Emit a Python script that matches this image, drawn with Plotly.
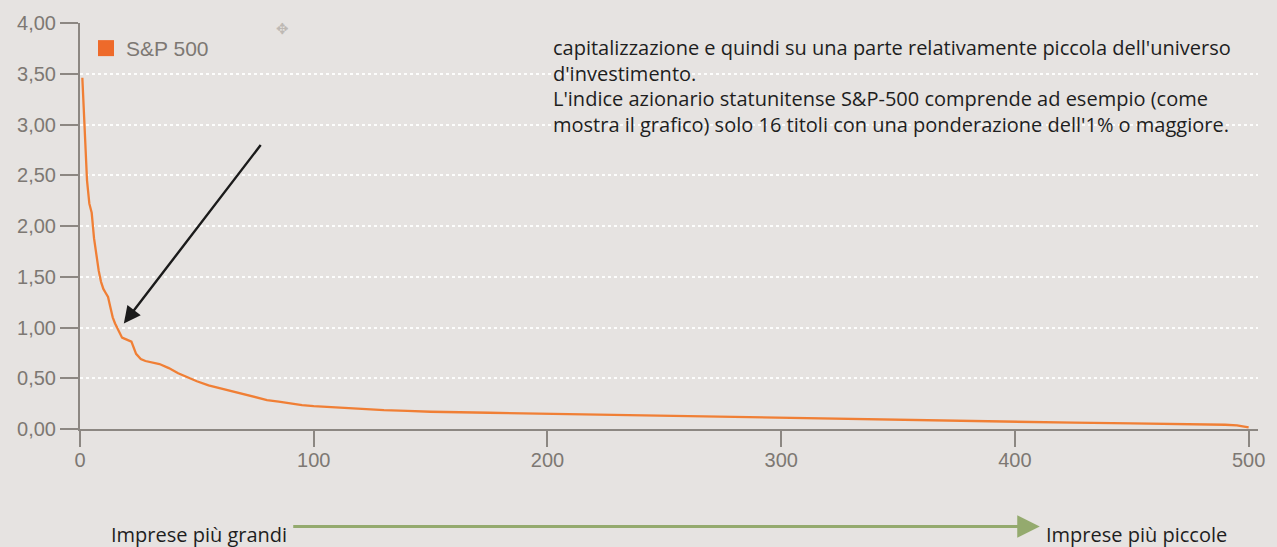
import plotly.graph_objects as go

# ---- data ----
ranks = [1, 2, 3, 4, 5, 6, 7, 8, 9, 10, 11, 12, 13, 14, 15, 16, 17, 18, 19, 20,
         22, 24, 26, 28, 30, 34, 38, 42, 46, 50, 55, 60, 65, 70, 75, 80, 85, 90,
         95, 100, 110, 120, 130, 140, 150, 175, 200, 225, 250, 275, 300, 325,
         350, 375, 400, 425, 450, 475, 490, 495, 500]
weights = [3.46, 2.98, 2.45, 2.22, 2.13, 1.88, 1.70, 1.56, 1.45, 1.38, 1.34, 1.30,
           1.20, 1.10, 1.04, 0.99, 0.94, 0.90, 0.89, 0.88, 0.86, 0.74, 0.69, 0.67,
           0.66, 0.64, 0.60, 0.55, 0.51, 0.47, 0.43, 0.40, 0.37, 0.34, 0.31, 0.285,
           0.27, 0.25, 0.235, 0.225, 0.21, 0.195, 0.185, 0.178, 0.17, 0.16, 0.15,
           0.14, 0.125, 0.115, 0.105, 0.095, 0.088, 0.08, 0.07, 0.062, 0.055,
           0.048, 0.042, 0.035, 0.015]
series_name = "S&P 500"
x_ticks = [0, 100, 200, 300, 400, 500]
y_ticks = [0.0, 0.5, 1.0, 1.5, 2.0, 2.5, 3.0, 3.5, 4.0]

note_lines = [
    "capitalizzazione e quindi su una parte relativamente piccola dell'universo",
    "d'investimento.",
    "L'indice azionario statunitense S&P-500 comprende ad esempio (come",
    "mostra il grafico) solo 16 titoli con una ponderazione dell'1% o maggiore.",
]
label_left = "Imprese più grandi"
label_right = "Imprese più piccole"

# ---- style ----
BG = "#e6e3e1"
AXIS = "#8c8782"
TICKTXT = "#7d7873"
ORANGE = "#f07f35"
LEG = "#ee6a2a"
GREEN = "#94aa6e"
TXT = "#1e1e1e"

W, H = 1277, 547
L, R, T, B = 80, 15, 21, 118
pw, ph = W - L - R, H - T - B


def px(xp):
    return (xp - L) / pw


def py(yp):
    return (H - B - yp) / ph


fig = go.Figure()
fig.add_trace(go.Scatter(
    x=ranks, y=weights, mode="lines",
    line=dict(color=ORANGE, width=2.3),
    showlegend=False, hoverinfo="skip",
))
fig.add_trace(go.Scatter(
    x=[None], y=[None], mode="markers", name=series_name,
    marker=dict(symbol="square", size=17, color=LEG),
    showlegend=True,
))

annotations = []
# note text block (top right)
line_y = [46, 72, 97, 123]
for txt, yy in zip(note_lines, line_y):
    annotations.append(dict(
        xref="paper", yref="paper", x=px(553), y=py(yy),
        xanchor="left", yanchor="middle", text=txt, showarrow=False,
        font=dict(family="Open Sans", size=20, color=TXT),
    ))

# black arrow pointing to the 1% crossing
annotations.append(dict(
    xref="paper", yref="paper", x=px(124), y=py(323),
    ax=262 - 124, ay=143 - 323, axref="pixel", ayref="pixel",
    text="", showarrow=True, arrowhead=2, arrowsize=1.4,
    arrowwidth=2.4, arrowcolor="#1b1b1b",
))

# green arrow along the bottom
annotations.append(dict(
    xref="paper", yref="paper", x=px(1043), y=py(527),
    ax=295 - 1043, ay=0, axref="pixel", ayref="pixel",
    text="", showarrow=True, arrowhead=2, arrowsize=1.5,
    arrowwidth=3, arrowcolor=GREEN,
))
annotations.append(dict(
    xref="paper", yref="paper", x=px(109), y=py(535),
    xanchor="left", yanchor="middle", text=label_left, showarrow=False,
    font=dict(family="Open Sans", size=20, color=TXT),
))
annotations.append(dict(
    xref="paper", yref="paper", x=px(1047), y=py(535),
    xanchor="left", yanchor="middle", text=label_right, showarrow=False,
    font=dict(family="Open Sans", size=20, color=TXT),
))
# small move cursor glyph
annotations.append(dict(
    xref="paper", yref="paper", x=px(283), y=py(27),
    xanchor="center", yanchor="middle", text="✥", showarrow=False,
    font=dict(family="DejaVu Sans", size=15, color="#bdb8b3"),
))

fig.update_layout(
    width=W, height=H, autosize=False,
    margin=dict(l=L, r=R, t=T, b=B, pad=0),
    paper_bgcolor=BG, plot_bgcolor=BG,
    separators=",.",
    font=dict(family="Liberation Sans", color=TICKTXT, size=20),
    legend=dict(
        x=px(86), y=py(26), xanchor="left", yanchor="top",
        bgcolor="rgba(0,0,0,0)", borderwidth=0,
        font=dict(family="Liberation Sans", size=21, color=TICKTXT),
    ),
    annotations=annotations,
    xaxis=dict(
        range=[0, 504], tickvals=x_ticks, ticks="outside", ticklen=16,
        tickwidth=2, tickcolor=AXIS, showline=True, linecolor=AXIS,
        linewidth=2, showgrid=False, zeroline=False, ticklabelstandoff=-4,
        tickfont=dict(family="Liberation Sans", size=20, color=TICKTXT),
    ),
    yaxis=dict(
        range=[0, 4], tickvals=y_ticks, tickformat=".2f", ticks="outside",
        ticklen=18, tickwidth=2, tickcolor=AXIS, showline=True,
        linecolor=AXIS, linewidth=2, showgrid=True,
        gridcolor="rgba(255,255,255,0.9)", gridwidth=1.5, griddash="dot",
        zeroline=False,
        tickfont=dict(family="Liberation Sans", size=20, color=TICKTXT),
    ),
)

fig.write_html(
    "out.html",
    config={"displayModeBar": False},
    post_script="document.body.style.margin='0';document.body.style.overflow='hidden';",
)
